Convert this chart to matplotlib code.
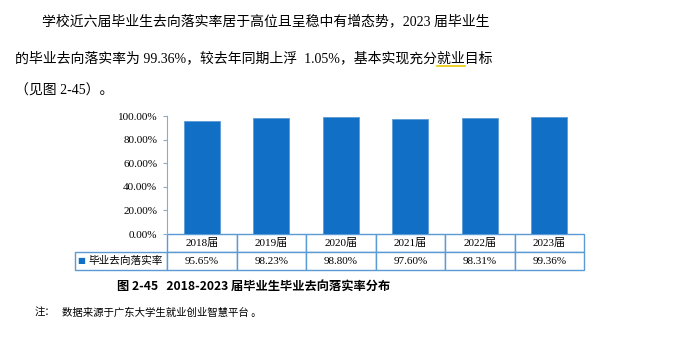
import matplotlib.pyplot as plt
from matplotlib.lines import Line2D
from matplotlib.ticker import FuncFormatter

years = ["2018届", "2019届", "2020届", "2021届", "2022届", "2023届"]
rates = [95.65, 98.23, 98.80, 97.60, 98.31, 99.36]
series_name = "毕业去向落实率"
y_ticks = [0, 20, 40, 60, 80, 100]

body_lines = [
    "学校近六届毕业生去向落实率居于高位且呈稳中有增态势，2023 届毕业生",
    "的毕业去向落实率为 99.36%，较去年同期上浮  1.05%，基本实现充分就业目标",
    "（见图 2-45）。",
]
caption = "图 2-45   2018-2023 届毕业生毕业去向落实率分布"
note_head = "注："
note_text = "数据来源于广东大学生就业创业智慧平台 。"

bar_color = "#1170C6"
line_color = "#5B9BD5"
serif_cjk = ["Liberation Serif", "Noto Sans CJK SC"]
sans_cjk = ["Noto Sans CJK SC", "DejaVu Sans"]

W, H = 679, 345
fig = plt.figure(figsize=(W / 100, H / 100), dpi=100)


def fx(x):
    return x / W


def fy(y):
    return 1 - y / H


# body text
fig.text(fx(42), fy(21), body_lines[0], fontsize=10, family=serif_cjk, va="center")
fig.text(fx(15), fy(58), body_lines[1], fontsize=10, family=serif_cjk, va="center")
fig.text(fx(15), fy(91), body_lines[2], fontsize=10, family=serif_cjk, va="center")
# yellow underline under 就业
fig.add_artist(Line2D([fx(437), fx(465)], [fy(66), fy(66)], color="#E8C800", lw=1.2))

# chart
ax = fig.add_axes([fx(167), fy(234), 417 / W, 118 / H])
x = range(len(years))
ax.bar(x, rates, width=0.52, color=bar_color, edgecolor=line_color, linewidth=0.6)
ax.set_xlim(-0.5, len(years) - 0.5)
ax.set_ylim(0, 100)
ax.set_yticks(y_ticks)
ax.yaxis.set_major_formatter(FuncFormatter(lambda v, p: f"{v:.2f}%"))
for s in ["top", "right", "bottom"]:
    ax.spines[s].set_visible(False)
ax.spines["left"].set_color("#8FA8C4")
ax.spines["left"].set_linewidth(0.8)
ax.tick_params(axis="y", direction="out", length=3, width=0.8, color="#8FA8C4",
               labelsize=8, pad=4)
ax.tick_params(axis="x", bottom=False, labelbottom=False)
for t in ax.get_yticklabels():
    t.set_fontfamily(serif_cjk)

# data table under the axes
lab_w = 92 / 417
row_h = 18 / 118
cells = [[""] + years, [series_name] + [f"{v:.2f}%" for v in rates]]
tbl = ax.table(cellText=cells, cellLoc="center",
               colWidths=[lab_w] + [1 / 6] * 6,
               bbox=[-lab_w, -2 * row_h, 1 + lab_w, 2 * row_h])
tbl.auto_set_font_size(False)
for (r, c), cell in tbl.get_celld().items():
    cell.set_edgecolor(line_color)
    cell.set_linewidth(1.0)
    cell.get_text().set_fontsize(8)
    cell.get_text().set_fontfamily(serif_cjk)
    if r == 0 and c == 0:
        cell.set_linewidth(0)
        cell.set_edgecolor("none")
    if r == 1 and c == 0:
        cell.PAD = 0.05
        cell.get_text().set_ha("right")
        cell._loc = "right"
        cell.get_text().set_fontfamily(sans_cjk)
        cell.get_text().set_fontsize(7.7)
fig.text(fx(81), fy(261), "■", color=bar_color, fontsize=6, ha="center", va="center")

# caption and note
fig.text(fx(254), fy(286), caption, fontsize=8.8, family=sans_cjk, fontweight="bold",
         ha="center", va="center")
fig.text(fx(35), fy(313), note_head, fontsize=7.5, family=sans_cjk, va="center")
fig.text(fx(62), fy(313), note_text, fontsize=7.5, family=sans_cjk, va="center")

fig.savefig("out.png", dpi=100)
